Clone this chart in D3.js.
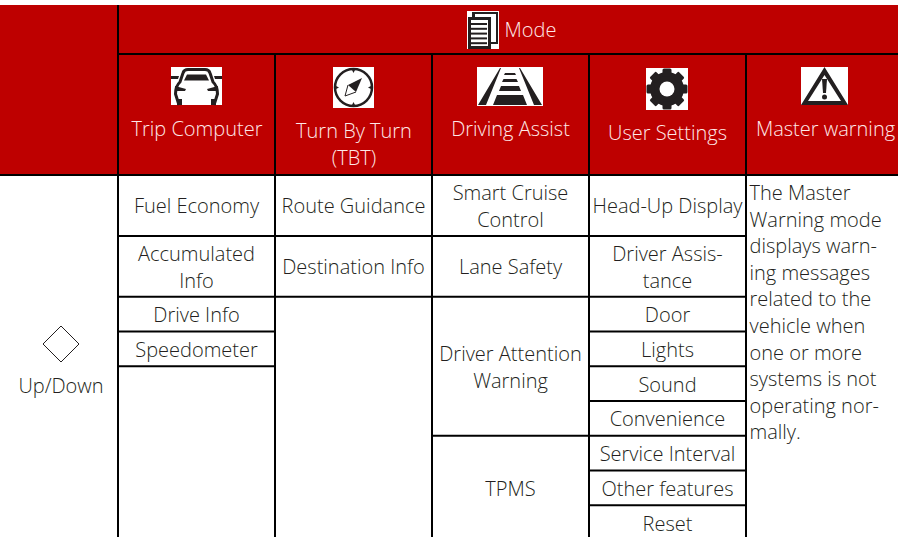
<!DOCTYPE html>
<html>
<head>
<meta charset="utf-8">
<script src="https://cdn.jsdelivr.net/npm/d3@7"></script>
<style>
html, body { margin: 0; padding: 0; background: #fff; overflow: hidden; }
svg { display: block; }
text { font-family: "Open Sans", sans-serif; font-weight: 300; font-size: 20px; }
</style>
</head>
<body>
<div id="chart"></div>
<script>
var width = 898, height = 537;

// table content
var title = 'Mode';
var modes = ['Trip Computer', 'Turn By Turn\n(TBT)', 'Driving Assist', 'User Settings', 'Master warning'];
var iconNames = ['car', 'compass', 'road', 'gear', 'warning'];
var sideLabel = 'Up/Down';

// each cell: [first slot, last slot, label]
var tripCells = [[0, 1, 'Fuel Economy'], [1, 2, 'Accumulated\nInfo'], [2, 3, 'Drive Info'], [3, 4, 'Speedometer']];
var turnCells = [[0, 1, 'Route Guidance'], [1, 2, 'Destination Info']];
var assistCells = [[0, 1, 'Smart Cruise\nControl'], [1, 2, 'Lane Safety'], [2, 6, 'Driver Attention\nWarning'], [6, 9, 'TPMS']];
var settingCells = [[0, 1, 'Head-Up Display'], [1, 2, 'Driver Assis-\ntance'], [2, 3, 'Door'], [3, 4, 'Lights'],
    [4, 5, 'Sound'], [5, 6, 'Convenience'], [6, 7, 'Service Interval'], [7, 8, 'Other features'], [8, 9, 'Reset']];
var warningLines = ['The Master', 'Warning mode', 'displays warn-', 'ing messages', 'related to the',
    'vehicle when', 'one or more', 'systems is not', 'operating nor-', 'mally.'];

var RED = '#be0000', INK = '#231f20', LINE = '#000';

var svg = d3.select('#chart').append('svg').attr('width', width).attr('height', height);

// column and row scales
var x = d3.scaleLinear().domain([0, 5]).range([118, 903]);
var y = d3.scaleLinear().domain([0, 2, 9]).range([175, 296.8, 540]);

svg.append('rect').attr('x', 0).attr('y', 5).attr('width', width).attr('height', 170).attr('fill', RED);

function rule(x1, y1, x2, y2) {
    svg.append('line').attr('x1', x1).attr('y1', y1).attr('x2', x2).attr('y2', y2)
        .attr('stroke', LINE).attr('stroke-width', 2);
}

function label(parent, str, cx, cy, fill, lineHeight) {
    var lines = str.split('\n');
    var top = cy - (lines.length - 1) * lineHeight / 2;
    lines.forEach(function (line, i) {
        parent.append('text').text(line)
            .attr('x', cx).attr('y', top + i * lineHeight).attr('dy', '0.35em')
            .attr('text-anchor', 'middle').attr('fill', fill);
    });
}

// header rules
rule(118, 5, 118, height);
rule(118, 54, width, 54);
rule(0, 175, width, 175);
d3.range(1, 5).forEach(function (i) { rule(x(i), 54, x(i), height); });

// header labels
var labelY = [128.5, 144, 128.5, 133, 128.5];
var labelDx = [0.5, 0.5, 0, 0, 1];
modes.forEach(function (m, i) {
    label(svg, m, x(i + 0.5) + labelDx[i], labelY[i], '#ffe8e8', 27);
});

// body cells
[tripCells, turnCells, assistCells, settingCells].forEach(function (cells, col) {
    cells.forEach(function (c) {
        label(svg, c[2], x(col + 0.5), (y(c[0]) + y(c[1])) / 2 + 1, INK, 27);
        if (y(c[1]) < height) rule(x(col), y(c[1]), x(col + 1), y(c[1]));
    });
});

// free text in last column
warningLines.forEach(function (line, i) {
    svg.append('text').text(line).attr('x', 749.5).attr('y', 193 + i * 26.6).attr('dy', '0.35em').attr('fill', INK);
});

// side label
svg.append('path').attr('d', d3.line()([[43, 344], [61, 326], [79, 344], [61, 362]]) + 'Z')
    .attr('fill', 'none').attr('stroke', INK).attr('stroke-width', 1);
label(svg, sideLabel, 61, 386, INK, 27);

// icons, drawn in their own box
var icons = {
    doc: { x: 467, y: 11, w: 32, h: 38, draw: function (g) {
        g.append('rect').attr('x', 5).attr('y', 1).attr('width', 26).attr('height', 32).attr('fill', INK);
        g.append('rect').attr('x', 8).attr('y', 3).attr('width', 21).attr('height', 28).attr('fill', '#fff');
        g.append('rect').attr('x', 1).attr('y', 6).attr('width', 23).attr('height', 32).attr('fill', INK);
        g.append('rect').attr('x', 4).attr('y', 9).attr('width', 17).attr('height', 26).attr('fill', '#fff');
        d3.range(5).forEach(function (i) {
            g.append('rect').attr('x', 4).attr('y', 12 + i * 4.8).attr('width', 16).attr('height', 2).attr('fill', INK);
        });
    } },
    car: { x: 171, y: 67, w: 51, h: 38, draw: function (g) {
        g.append('path').attr('fill', 'none').attr('stroke', INK).attr('stroke-width', 3)
            .attr('d', 'M8 38 L4.5 27 Q4.5 19 9 15 L12 6 Q13 2.5 17 2.5 H34 Q38 2.5 39 6 L42 15 Q46.5 19 46.5 27 L43 38');
        g.append('path').attr('fill', INK).attr('d', 'M13 13.5 L16 7.5 H35 L38 13.5 Z');
        g.append('path').attr('fill', INK).attr('d', 'M0 9 H8 L7 12 H0 Z M51 9 H43 L44 12 H51 Z M4 19 L15 22 L14 24 H4 Z M47 19 L36 22 L37 24 H47 Z M6 32 H11 V38 H6 Z M40 32 H45 V38 H40 Z');
    } },
    compass: { x: 333, y: 67, w: 41, h: 41, draw: function (g) {
        g.append('circle').attr('cx', 20.5).attr('cy', 20.5).attr('r', 18.5).attr('fill', 'none').attr('stroke', INK).attr('stroke-width', 2.5);
        g.append('path').attr('fill', 'none').attr('stroke', INK).attr('stroke-width', 1).attr('d', 'M15 18 L12 29 L23 25');
        g.append('path').attr('fill', INK).attr('d', 'M29 11 L15 18 L23 25 Z');
        g.append('path').attr('fill', INK).attr('d', 'M18.5 2 h4 l-2 4 Z M18.5 39 h4 l-2 -4 Z M2 18.5 v4 l4 -2 Z M39 18.5 v4 l-4 -2 Z');
    } },
    road: { x: 477, y: 67, w: 66, h: 39, draw: function (g) {
        g.append('path').attr('fill', INK).attr('d', 'M1 38 L23 1 L24 1 L9 38 Z M65 38 L43 1 L42 1 L57 38 Z');
        g.append('path').attr('fill', INK).attr('d', 'M16 38 L20 28 H46 L50 38 Z M22 24 L24 19 H42 L44 24 Z M25 15 L26.5 12 H39.5 L41 15 Z M27 8 L28 6 H38 L39 8 Z');
    } },
    gear: { x: 646, y: 68, w: 42, h: 42, draw: function (g) {
        g.append('circle').attr('cx', 21).attr('cy', 21).attr('r', 17).attr('fill', INK);
        d3.range(8).forEach(function (i) {
            g.append('rect').attr('x', 16.5).attr('y', 0.5).attr('width', 9).attr('height', 8).attr('rx', 1.5).attr('fill', INK)
                .attr('transform', 'rotate(' + (i * 45) + ' 21 21)');
        });
        g.append('circle').attr('cx', 21).attr('cy', 21).attr('r', 7.5).attr('fill', '#fff');
    } },
    warning: { x: 801, y: 67, w: 47, h: 38, draw: function (g) {
        g.append('path').attr('fill', INK).attr('fill-rule', 'evenodd')
            .attr('d', 'M23.5 0 L47 38 H0 Z M23.5 8 L7 34 H40 Z');
        g.append('path').attr('fill', INK).attr('d', 'M21 12 H26 L25 26 H22 Z');
        g.append('circle').attr('cx', 23.5).attr('cy', 30).attr('r', 2.5).attr('fill', INK);
    } }
};

function drawIcon(name) {
    var ic = icons[name];
    var g = svg.append('g').attr('transform', 'translate(' + ic.x + ',' + ic.y + ')');
    g.append('rect').attr('width', ic.w).attr('height', ic.h).attr('fill', '#fff');
    ic.draw(g);
}
drawIcon('doc');
iconNames.forEach(drawIcon);

label(svg, title, 530.5, 29.5, '#ffe8e8', 27);
</script>
</body>
</html>
